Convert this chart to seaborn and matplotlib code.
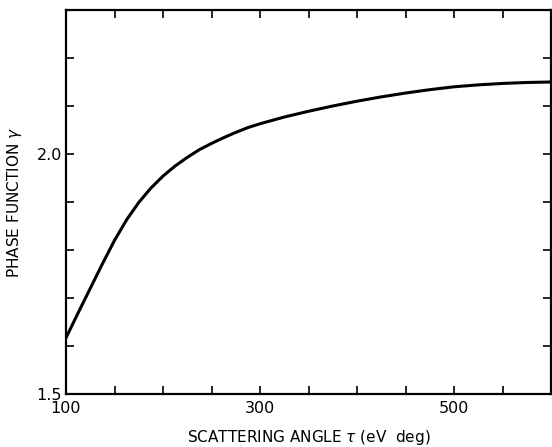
import matplotlib
matplotlib.use("Agg")
import matplotlib.pyplot as plt
import seaborn as sns
import pandas as pd
from matplotlib.ticker import MultipleLocator, FixedLocator

# Data
tau = [100, 112.5, 125, 137.5, 150, 162.5, 175, 187.5, 200, 212.5, 225, 237.5,
       250, 262.5, 275, 287.5, 300, 325, 350, 375, 400, 425, 450, 475, 500,
       525, 550, 575, 600]
gamma = [1.617, 1.669, 1.720, 1.771, 1.820, 1.863, 1.899, 1.929, 1.954, 1.975,
         1.993, 2.009, 2.022, 2.034, 2.045, 2.055, 2.063, 2.077, 2.089, 2.100,
         2.110, 2.119, 2.127, 2.134, 2.140, 2.144, 2.147, 2.149, 2.150]

x_major = [100, 300, 500]
y_major = [1.5, 2.0]

x_label = "SCATTERING ANGLE $\\tau$ (eV  deg)"
y_label = "PHASE FUNCTION $\\gamma$"

sns.set_style("ticks")
plt.rcParams['font.family'] = ['DejaVu Sans']
plt.rcParams['text.color'] = 'black'
plt.rcParams['axes.labelcolor'] = 'black'
plt.rcParams['xtick.color'] = 'black'
plt.rcParams['ytick.color'] = 'black'

df = pd.DataFrame({"tau": tau, "gamma": gamma})

fig = plt.figure(figsize=(5.52, 4.47), dpi=100)
ax = fig.add_axes([66/552, 1-394/447, (551-66)/552, (394-10)/447])

sns.lineplot(data=df, x="tau", y="gamma", ax=ax, color="black", linewidth=2.2)

ax.set_xlim(100, 600)
ax.set_ylim(1.5, 2.3)

ax.xaxis.set_major_locator(FixedLocator(x_major))
ax.xaxis.set_minor_locator(MultipleLocator(50))
ax.yaxis.set_major_locator(FixedLocator(y_major))
ax.yaxis.set_minor_locator(MultipleLocator(0.1))
ax.set_xticklabels([str(v) for v in x_major])
ax.set_yticklabels([f"{v:.1f}" for v in y_major])

ax.tick_params(which="both", direction="in", top=True, right=True,
               width=1.2, color="black", labelcolor="black", labelsize=11.5)
ax.tick_params(which="major", length=6)
ax.tick_params(which="minor", length=6)
ax.tick_params(axis="x", pad=5)
ax.tick_params(axis="y", pad=3)

for s in ax.spines.values():
    s.set_linewidth(1.6)
    s.set_color("black")

ax.set_xlabel(x_label, fontsize=11, labelpad=9, color="black")
ax.set_ylabel(y_label, fontsize=11, labelpad=9, color="black")

fig.savefig("out.png", dpi=100, facecolor="white")
